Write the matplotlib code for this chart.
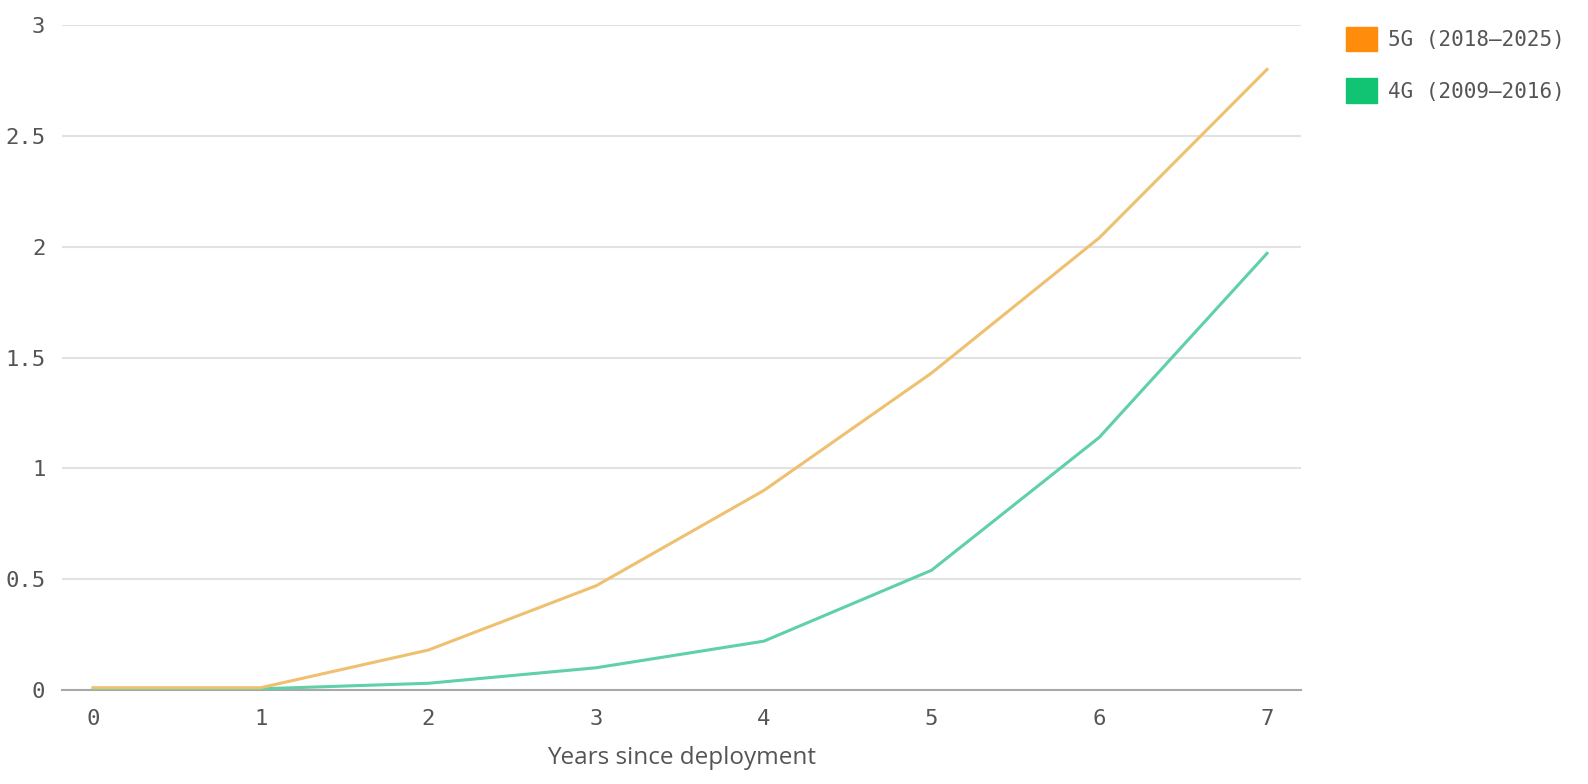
import matplotlib
matplotlib.use("Agg")
import matplotlib.pyplot as plt
from matplotlib.patches import Patch

years = [0, 1, 2, 3, 4, 5, 6, 7]
g5 = [0.01, 0.01, 0.18, 0.47, 0.90, 1.43, 2.04, 2.80]
g4 = [0.0, 0.005, 0.03, 0.10, 0.22, 0.54, 1.14, 1.97]
yticks = [0, 0.5, 1, 1.5, 2, 2.5, 3]
ytick_labels = ["0", "0.5", "1", "1.5", "2", "2.5", "3"]
series_labels = ["5G (2018\u20132025)", "4G (2009\u20132016)"]
xlabel = "Years since deployment"

fig = plt.figure(figsize=(15.88, 7.84), dpi=100)
ax = fig.add_axes([0.039, 0.120, 0.780, 0.848])

ax.plot(years, g4, color="#5fd0a8", lw=2.2, zorder=3)
ax.plot(years, g5, color="#eec070", lw=2.2, zorder=4)

ax.set_xlim(-0.185, 7.2)
ax.set_ylim(0, 3.0)
ax.set_yticks(yticks)
ax.set_yticklabels(ytick_labels)
ax.set_xticks(years)
ax.grid(axis="y", color="#e2e2e2", lw=1.5)
ax.set_axisbelow(True)
for s in ["top", "right", "left"]:
    ax.spines[s].set_visible(False)
ax.spines["bottom"].set_color("#a8a8a8")
ax.spines["bottom"].set_linewidth(1.5)
ax.tick_params(axis="both", length=0, labelsize=16, colors="#555555")
ax.tick_params(axis="y", pad=12)
ax.tick_params(axis="x", pad=14)
for lab in ax.get_xticklabels() + ax.get_yticklabels():
    lab.set_family("DejaVu Sans Mono")
ax.set_xlabel(xlabel, fontsize=17.5, color="#555555", family="Open Sans", labelpad=12)

handles = [Patch(color="#ff8c0a"), Patch(color="#10c474")]
leg = fig.legend(handles, series_labels, loc="upper left", bbox_to_anchor=(0.836, 0.99),
                 frameon=False, handlelength=1.45, handleheight=1.45, handletextpad=0.55,
                 labelspacing=1.3, prop={"family": "DejaVu Sans Mono", "size": 15})
for t in leg.get_texts():
    t.set_color("#555555")

fig.savefig("out.png", dpi=100, facecolor="white")
